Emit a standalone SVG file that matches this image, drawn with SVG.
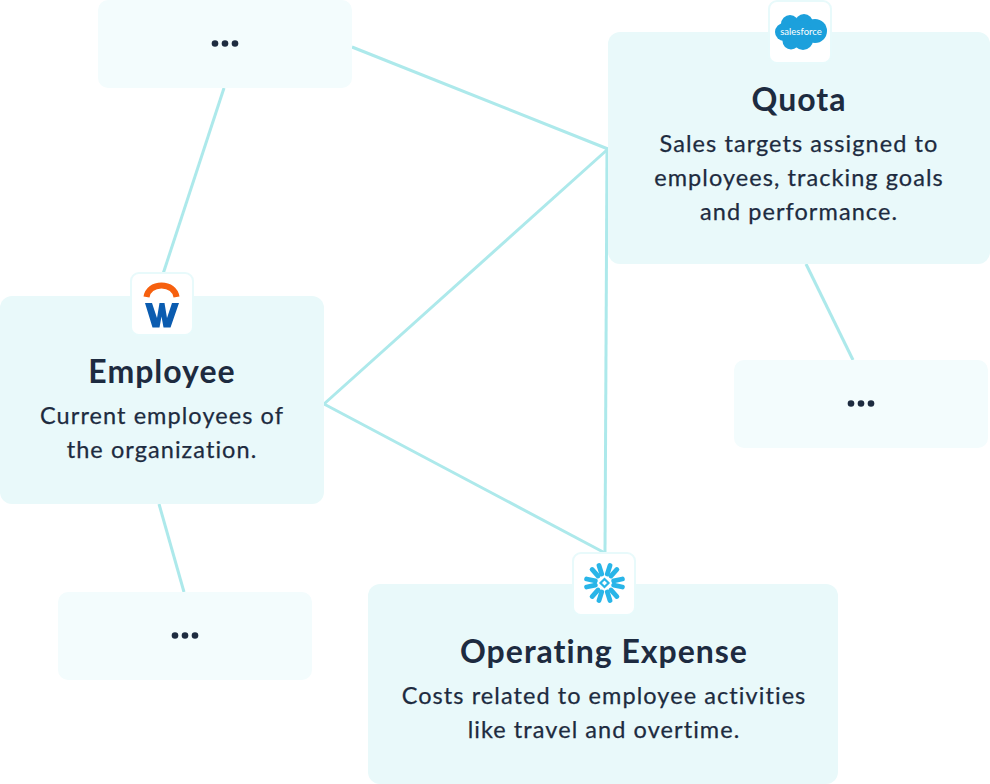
<svg xmlns="http://www.w3.org/2000/svg" width="990" height="784" viewBox="0 0 990 784">
<style>
.card{fill:#e9f9fa}
.mini{fill:#f3fcfd}
.badge{fill:#fff;stroke:#e8fafb;stroke-width:2}
.t{font-family:Lato,"Liberation Sans",sans-serif;font-size:32px;font-weight:700;fill:#1d2b40;text-anchor:middle;letter-spacing:1px}
.d{font-family:Lato,"Liberation Sans",sans-serif;font-size:23.5px;fill:#1d2b40;stroke:#1d2b40;stroke-width:.25;text-anchor:middle;letter-spacing:1.07px}
.dots{fill:#1d2b40}
.arm{fill:none;stroke:#29b5e8;stroke-width:4.800;stroke-linecap:round}
#connectors line{stroke:#ade9eb;stroke-width:3;fill:none}
</style>
<defs>
<path id="arm" class="arm" d="M-5.500 -17.500L-2.800 -9M5.500 -17.500L2.800 -9"/>
</defs>
<g id="connectors">
<line x1="224" y1="88" x2="163" y2="274"/>
<line x1="352" y1="47" x2="608" y2="149"/>
<line x1="324" y1="404" x2="608" y2="149"/>
<line x1="324" y1="404" x2="605" y2="553"/>
<line x1="607" y1="149" x2="605" y2="553"/>
<line x1="806" y1="264" x2="853" y2="360"/>
<line x1="159" y1="504" x2="184" y2="592"/>
</g>
<g id="node-top-dots">
<rect class="mini" x="98" y="0" width="254" height="88" rx="10"/>
<circle class="dots" cx="215" cy="43.500" r="3.300"/><circle class="dots" cx="225" cy="43.500" r="3.300"/><circle class="dots" cx="235" cy="43.500" r="3.300"/>
</g>
<g id="node-right-dots">
<rect class="mini" x="734" y="360" width="254" height="88" rx="10"/>
<circle class="dots" cx="851" cy="403.500" r="3.300"/><circle class="dots" cx="861" cy="403.500" r="3.300"/><circle class="dots" cx="871" cy="403.500" r="3.300"/>
</g>
<g id="node-left-dots">
<rect class="mini" x="58" y="592" width="254" height="88" rx="10"/>
<circle class="dots" cx="175" cy="635.500" r="3.300"/><circle class="dots" cx="185" cy="635.500" r="3.300"/><circle class="dots" cx="195" cy="635.500" r="3.300"/>
</g>
<g id="node-quota">
<rect class="card" x="608" y="32" width="382" height="232" rx="12"/>
<rect class="badge" x="769" y="1" width="62" height="62" rx="8"/>
<g fill="#1ca0dc">
<circle cx="790" cy="24" r="9"/><circle cx="804" cy="23" r="9"/><circle cx="815" cy="31" r="12"/><circle cx="803" cy="40" r="10"/><circle cx="791" cy="41" r="8.500"/><circle cx="784" cy="32" r="9"/><circle cx="800" cy="32" r="12"/>
</g>
<text x="801" y="35" font-family="Lato,'Liberation Sans',sans-serif" font-size="9.500" fill="#fff" text-anchor="middle">salesforce</text>
<text class="t" x="799" y="111">Quota</text>
<text class="d" x="799" y="152">Sales targets assigned to</text>
<text class="d" x="799" y="186">employees, tracking goals</text>
<text class="d" x="799" y="220">and performance.</text>
</g>
<g id="node-employee">
<rect class="card" x="0" y="296" width="324" height="208" rx="12"/>
<rect class="badge" x="131" y="273" width="62" height="62" rx="8"/>
<path fill="none" stroke="#f6600f" stroke-width="6" d="M146.500 297c1-7 7-11.500 15-11.500s14 4.500 15 11.500"/>
<path fill="#0b5cb0" d="M145 303h7l5 15 2.500-15h5l2.500 15 5-15h7l-8.500 24.500h-7l-2-11-2 11h-7z"/>
<text class="t" x="162" y="383">Employee</text>
<text class="d" x="162" y="424">Current employees of</text>
<text class="d" x="162" y="458">the organization.</text>
</g>
<g id="node-expense">
<rect class="card" x="368" y="584" width="470" height="200" rx="12"/>
<rect class="badge" x="573" y="553" width="62" height="62" rx="8"/>
<use href="#arm" transform="translate(604.500 583)"/>
<use href="#arm" transform="translate(604.500 583) rotate(60)"/>
<use href="#arm" transform="translate(604.500 583) rotate(120)"/>
<use href="#arm" transform="translate(604.500 583) rotate(180)"/>
<use href="#arm" transform="translate(604.500 583) rotate(240)"/>
<use href="#arm" transform="translate(604.500 583) rotate(300)"/>
<path fill="#fff" stroke="#29b5e8" stroke-width="2.200" d="M604.500 579l4 4-4 4-4-4z"/>
<text class="t" x="604" y="663">Operating Expense</text>
<text class="d" x="604" y="704">Costs related to employee activities</text>
<text class="d" x="604" y="738">like travel and overtime.</text>
</g>
</svg>
